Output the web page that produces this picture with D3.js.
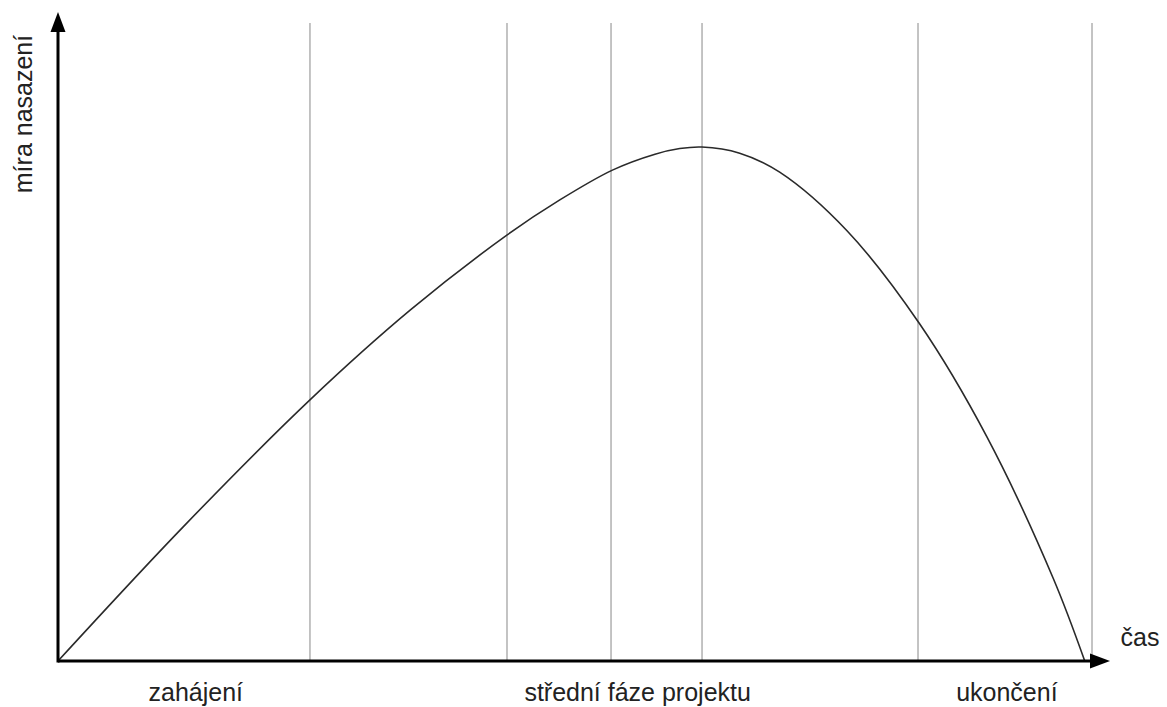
<!DOCTYPE html>
<html>
<head>
<meta charset="utf-8">
<script src="https://cdn.jsdelivr.net/npm/d3@7"></script>
<style>
  html, body { margin: 0; padding: 0; background: #fff; }
  svg { display: block; }
  text { font-family: "Liberation Sans", Arial, Helvetica, sans-serif; fill: #222; }
</style>
</head>
<body>
<svg id="chart" width="1167" height="707"></svg>
<script>
// ---- data ----
const curveTime  = [0, 11.9, 23.95, 33.5, 42.7, 47.7, 52.7, 56.75, 59.1, 61.2, 64.8, 68.6, 75.0, 81.9, 88.3, 94.6, 97.6];
const curveLevel = [0, 26.1, 50.8, 68.3, 82.9, 89.7, 95.5, 98.6, 99.7, 100, 98.8, 95.1, 83.7, 65.6, 43.6, 16.1, 0];
const dividerTimes = [23.95, 42.68, 52.57, 61.22, 81.75, 98.29];
const phaseLabels = ["zahájení", "střední fáze projektu", "ukončení"];
const phaseLabelTimes = [13.1, 55.1, 90.2];
const xAxisLabel = "čas";
const yAxisLabel = "míra nasazení";

// ---- layout ----
const svg = d3.select("#chart");
const x = d3.scaleLinear().domain([0, 100]).range([58, 1110]);
const y = d3.scaleLinear().domain([0, 100]).range([661, 147]);
const yTop = 12;
const dividerTop = 23;

// vertical phase dividers
svg.append("g").selectAll("line").data(dividerTimes).join("line")
  .attr("x1", d => x(d)).attr("x2", d => x(d))
  .attr("y1", dividerTop).attr("y2", y(0))
  .attr("stroke", "#b5b5b5").attr("stroke-width", 1.6);

// curve
const pts = curveTime.map((t, i) => [t, curveLevel[i]]);
svg.append("path")
  .datum(pts)
  .attr("fill", "none")
  .attr("stroke", "#2a2a2a")
  .attr("stroke-width", 1.6)
  .attr("d", d3.line().x(d => x(d[0])).y(d => y(d[1])).curve(d3.curveCatmullRom.alpha(0.5)));

// axes
const x0 = x(0), y0 = y(0), xEnd = x(100);
svg.append("line").attr("x1", x0).attr("x2", xEnd - 16).attr("y1", y0).attr("y2", y0)
  .attr("stroke", "#000").attr("stroke-width", 3);
svg.append("line").attr("x1", x0).attr("x2", x0).attr("y1", y0 + 1.5).attr("y2", yTop + 16)
  .attr("stroke", "#000").attr("stroke-width", 3);
// arrowheads
svg.append("path")
  .attr("d", `M${xEnd},${y0} L${xEnd - 20},${y0 - 7.5} L${xEnd - 20},${y0 + 7.5} Z`)
  .attr("fill", "#000");
svg.append("path")
  .attr("d", `M${x0},${yTop} L${x0 - 7.5},${yTop + 20} L${x0 + 7.5},${yTop + 20} Z`)
  .attr("fill", "#000");

// labels
svg.append("g").selectAll("text").data(phaseLabels).join("text")
  .attr("x", (d, i) => x(phaseLabelTimes[i]))
  .attr("y", 701)
  .attr("text-anchor", "middle")
  .attr("font-size", 25)
  .text(d => d);

svg.append("text")
  .attr("x", 1140).attr("y", 646)
  .attr("text-anchor", "middle")
  .attr("font-size", 25)
  .text(xAxisLabel);

svg.append("text")
  .attr("transform", "translate(32,114) rotate(-90)")
  .attr("text-anchor", "middle")
  .attr("font-size", 25)
  .text(yAxisLabel);
</script>
</body>
</html>
